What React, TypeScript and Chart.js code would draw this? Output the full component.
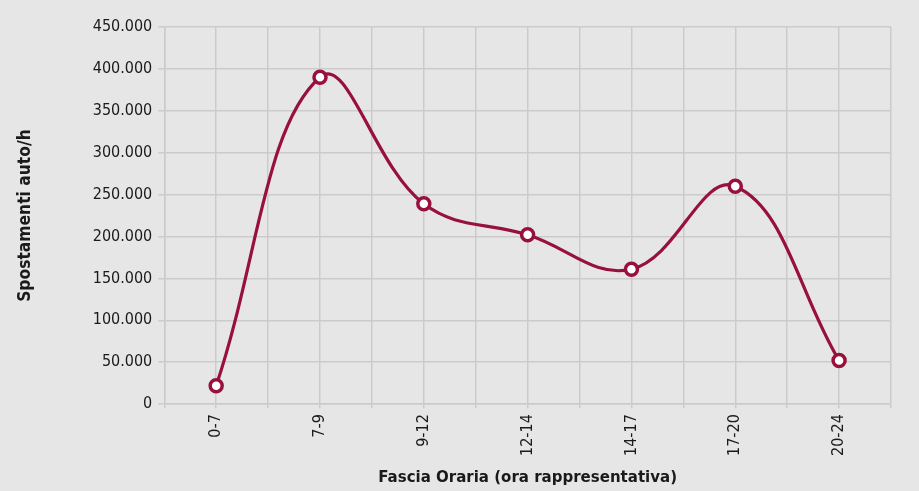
import React, { useEffect, useRef } from "react";
import { Chart, registerables } from "chart.js";

Chart.register(...registerables);

const categories = ["0-7", "7-9", "9-12", "12-14", "14-17", "17-20", "20-24"];
const spostamenti = [22000, 390000, 239000, 202000, 161000, 260000, 52000];
const yTickMax = 450000;
const yTickStep = 50000;

const FONT = '"Liberation Sans Narrow", "DejaVu Sans Condensed", "Roboto Condensed", sans-serif';
const LINE = "#98103c";
const GRID = "#cbcbcb";
const BG = "#e6e6e6";

function fmt(v: number): string {
  return Math.round(v).toString().replace(/\B(?=(\d{3})+(?!\d))/g, ".");
}

export default function App() {
  const ref = useRef<HTMLCanvasElement | null>(null);
  useEffect(() => {
    if (!ref.current) return;
    const chart = new Chart(ref.current, {
      type: "line",
      data: {
        datasets: [
          {
            label: "Spostamenti auto/h",
            data: spostamenti.map((v, i) => ({ x: i, y: v })),
            borderColor: LINE,
            borderWidth: 3.2,
            tension: 0.4,
            pointRadius: 6,
            pointBorderWidth: 3.5,
            pointBackgroundColor: "#ffffff",
            pointBorderColor: LINE,
            fill: false,
          },
        ],
      },
      options: {
        responsive: false,
        animation: false,
        layout: { padding: { top: 27, right: 28, left: 15, bottom: 3 } },
        plugins: {
          legend: { display: false },
          tooltip: { enabled: false },
        },
        scales: {
          x: {
            type: "linear",
            min: -0.5,
            max: categories.length - 0.5,
            ticks: {
              stepSize: 0.5,
              autoSkip: false,
              maxRotation: 90,
              minRotation: 90,
              color: "#1a1a1a",
              padding: 6,
              font: { family: FONT, size: 16 },
              callback: (v: any) => {
                const n = Number(v);
                return Number.isInteger(n) ? categories[n] : "";
              },
            },
            grid: { color: GRID, lineWidth: 1.5, tickLength: 4 },
            border: { color: GRID, width: 1.5 },
            title: {
              display: true,
              text: "Fascia Oraria (ora rappresentativa)",
              color: "#1a1a1a",
              font: { family: FONT, size: 16.7, weight: "bold" },
              padding: { top: 6, bottom: 0 },
            },
          },
          y: {
            min: 0,
            max: yTickMax,
            ticks: {
              stepSize: yTickStep,
              color: "#1a1a1a",
              padding: 6,
              font: { family: FONT, size: 16 },
              callback: (v: any) => fmt(Number(v)),
            },
            grid: { color: GRID, lineWidth: 1.5, tickLength: 6 },
            border: { color: GRID, width: 1.5 },
            title: {
              display: true,
              text: "Spostamenti auto/h",
              color: "#1a1a1a",
              font: { family: FONT, size: 17.3, weight: "bold" },
              padding: { top: 0, bottom: 51 },
            },
          },
        },
      },
    });
    return () => chart.destroy();
  }, []);
  return (
    <div style={{ position: "fixed", left: 0, top: 0, width: 919, height: 491, background: BG }}>
      <canvas ref={ref} width={919} height={491} style={{ display: "block" }} />
    </div>
  );
}
